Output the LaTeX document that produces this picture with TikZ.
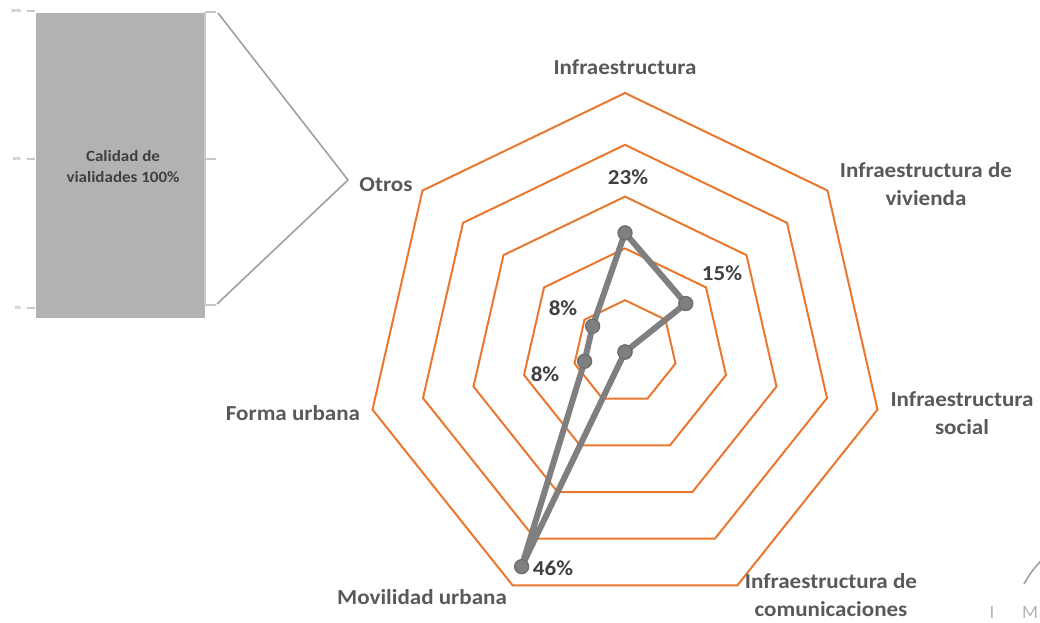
\documentclass[tikz,border=0pt]{standalone}
\usepackage{fontspec}
\setmainfont{Carlito}
\newfontfamily\lab[FakeStretch=1.08]{Carlito}
\definecolor{ringorange}{HTML}{E9782D}
\definecolor{dataGray}{HTML}{7F7F7F}
\definecolor{markGray}{HTML}{6E6E6E}
\definecolor{catGray}{HTML}{595959}
\definecolor{pctGray}{HTML}{404040}
\definecolor{barGray}{HTML}{B2B2B2}
\definecolor{tickGray}{HTML}{C8C8C8}
\definecolor{bracketGray}{HTML}{A0A0A0}
\tikzset{
  ring/.style={draw=ringorange, line width=1.5pt, line join=miter},
  dataline/.style={draw=dataGray, line width=4.5pt, line join=round, line cap=round},
  marker/.style={circle, fill=dataGray, draw=markGray, line width=1pt, minimum size=10.5pt, inner sep=0pt},
  catlabel/.style={font=\lab\bfseries\fontsize{16}{21}\selectfont, text=catGray, align=center, inner sep=0pt},
  pctlabel/.style={font=\lab\bfseries\fontsize{16}{18}\selectfont, text=pctGray, inner sep=0pt},
  barlabel/.style={font=\lab\bfseries\fontsize{11.8}{15.8}\selectfont, text=pctGray, align=center, inner sep=0pt},
  ticklabel/.style={font=\fontsize{3.5}{3.5}\selectfont, text=bracketGray!80!black, inner sep=0pt},
  tick/.style={draw=tickGray, line width=0.9pt},
  bracket/.style={draw=bracketGray, line width=1.2pt},
  mark text/.style={font=\fontsize{14}{14}\selectfont, text=bracketGray!80, inner sep=0pt}
}
\begin{document}
\begin{tikzpicture}[x=0.75pt, y=-0.75pt]
\useasboundingbox (0,0) rectangle (1040,623);

% ---------- left stacked bar ----------
\node[fill=barGray, minimum width=126.75pt, minimum height=228.75pt, inner sep=0pt, anchor=north west] (bar) at (36,13) {};
\node[barlabel] (bartext) at (123,167) {Calidad de\\vialidades 100\%};
\coordinate (t100l) at (27,11); \coordinate (t100r) at (35,11);
\coordinate (t50l) at (27,159); \coordinate (t50r) at (35,159);
\coordinate (t0l) at (27,308); \coordinate (t0r) at (35,308);
\draw[tick] (t100l) -- (t100r);
\draw[tick] (t50l) -- (t50r);
\draw[tick] (t0l) -- (t0r);
\node[ticklabel] (l100) at (16,11) {100\%};
\node[ticklabel] (l50) at (17,159) {50\%};
\node[ticklabel] (l0) at (18,308) {0\%};

% right axis of bar and bracket
\coordinate (rtop) at (205,12);
\coordinate (rbot) at (205,305);
\coordinate (rtopx) at (216,12);
\coordinate (rmid) at (205,159);
\coordinate (rmidx) at (216,159);
\coordinate (rbotx) at (216,305);
\draw[tick] (rtop) -- (rbot);
\draw[tick] (rtop) -- (rtopx);
\draw[tick] (rmid) -- (rmidx);
\draw[tick] (rbot) -- (rbotx);
\coordinate (bA) at (218,13);
\coordinate (bB) at (348,180);
\coordinate (bC) at (217,304);
\draw[bracket] (bA) -- (bB) -- (bC);

% ---------- radar rings ----------
\coordinate (ctr) at (625,352);
\foreach \k in {1,...,5} {
  \draw[ring] ({625},{352-51.8*\k})
    \foreach \i in {1,...,6} { -- ({625+51.8*\k*sin(\i*360/7)},{352-51.8*\k*cos(\i*360/7)}) } -- cycle;
}

% ---------- data ----------
\foreach \v [count=\i from 0] in {23,15,0,0,46,8,8}
  \coordinate (p\i) at ({625+5.18*\v*sin(\i*360/7)},{352-5.18*\v*cos(\i*360/7)});
\draw[dataline] (p0) -- (p1) -- (p2) -- (p3) -- (p4) -- (p5) -- (p6) -- cycle;
\foreach \i in {0,...,6} \node[marker] (m\i) at (p\i) {};

% ---------- percentage labels ----------
\node[pctlabel] (v0) at (628,177) {23\%};
\node[pctlabel] (v1) at (722,273) {15\%};
\node[pctlabel] (v6) at (563,308) {8\%};
\node[pctlabel] (v5) at (545,374) {8\%};
\node[pctlabel] (v4) at (553,568) {46\%};

% ---------- category labels ----------
\node[catlabel] (c0) at (625,67) {Infraestructura};
\node[catlabel] (c1) at (926,184) {Infraestructura de\\vivienda};
\node[catlabel] (c2) at (962,413) {Infraestructura\\social};
\node[catlabel] (c3) at (831,595) {Infraestructura de\\comunicaciones};
\node[catlabel] (c4) at (422,597) {Movilidad urbana};
\node[catlabel] (c5) at (293,413) {Forma urbana};
\node[catlabel] (c6) at (386,185) {Otros};

% ---------- corner fragment ----------
\node[mark text] (cI) at (992,613) {I};
\node[mark text] (cM) at (1030,613) {M};
\coordinate (arcA) at (1024,584);
\coordinate (arcB) at (1042,560);
\draw[draw=bracketGray, line width=1.2pt] (arcA) .. controls (1030,573) and (1036,566) .. (arcB);
\end{tikzpicture}
\end{document}
